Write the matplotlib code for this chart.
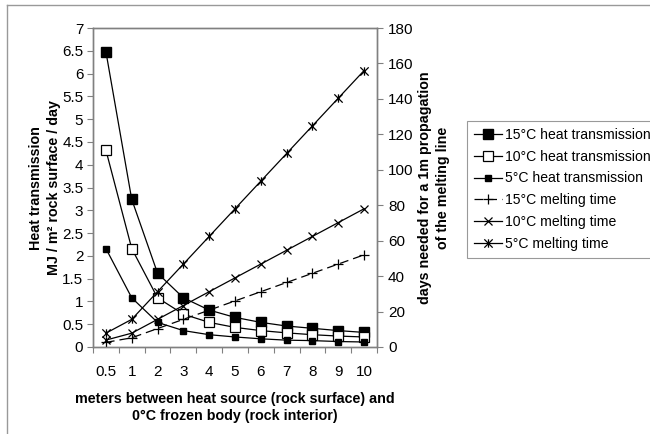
import matplotlib
matplotlib.use("Agg")
import matplotlib.pyplot as plt
from matplotlib.path import Path
from matplotlib.lines import Line2D
from matplotlib.ticker import FuncFormatter, FixedLocator

plt.rcParams['font.family'] = ['Liberation Sans', 'DejaVu Sans']

# ---- data ----
distance_labels = ['0.5', '1', '2', '3', '4', '5', '6', '7', '8', '9', '10']
heat_15 = [6.48, 3.24, 1.62, 1.08, 0.81, 0.65, 0.54, 0.46, 0.41, 0.36, 0.32]
heat_10 = [4.32, 2.16, 1.08, 0.72, 0.54, 0.43, 0.36, 0.31, 0.27, 0.24, 0.22]
heat_5 = [2.16, 1.08, 0.54, 0.36, 0.27, 0.22, 0.18, 0.15, 0.14, 0.12, 0.11]
melt_15 = [2.6, 5.2, 10.4, 15.6, 20.8, 26.0, 31.2, 36.4, 41.6, 46.8, 52.0]
melt_10 = [3.9, 7.8, 15.6, 23.4, 31.2, 39.0, 46.8, 54.6, 62.4, 70.2, 78.0]
melt_5 = [7.8, 15.6, 31.2, 46.8, 62.4, 78.0, 93.6, 109.2, 124.8, 140.4, 156.0]
left_ticks = [0, 0.5, 1, 1.5, 2, 2.5, 3, 3.5, 4, 4.5, 5, 5.5, 6, 6.5, 7]
right_ticks = [0, 20, 40, 60, 80, 100, 120, 140, 160, 180]

W, H = 650, 434
fig = plt.figure(figsize=(W / 100, H / 100), dpi=100)
ax = fig.add_axes([93 / W, 1 - 347 / H, (377 - 93) / W, (347 - 28) / H])
ax2 = ax.twinx()

x = list(range(len(distance_labels)))

star = Path([(-1, -1), (1, 1), (-1, 1), (1, -1), (0, -1), (0, 1)],
            [Path.MOVETO, Path.LINETO] * 3)

lw = 0.9
h1, = ax.plot(x, heat_15, color='black', lw=lw, marker='s', ms=6.5,
              mfc='black', mec='black', label='15°C heat transmission', zorder=3)
h2, = ax.plot(x, heat_10, color='black', lw=lw, marker='s', ms=6.5,
              mfc='white', mec='black', mew=0.9, label='10°C heat transmission', zorder=3)
h3, = ax.plot(x, heat_5, color='black', lw=lw, marker='s', ms=4,
              mfc='black', mec='black', label='5°C heat transmission', zorder=3)
m1, = ax2.plot(x, melt_15, color='black', lw=lw, ls=(0, (7, 4)), marker='+', ms=7,
               mew=0.9, label='15°C melting time')
m2, = ax2.plot(x, melt_10, color='black', lw=lw, marker='x', ms=5.5,
               mew=0.9, label='10°C melting time')
m3, = ax2.plot(x, melt_5, color='black', lw=lw, marker=star, ms=6,
               mew=0.9, label='5°C melting time')

ax.set_xlim(-0.5, len(x) - 0.5)
ax.set_ylim(0, 7)
ax2.set_ylim(0, 180)

ax.yaxis.set_major_locator(FixedLocator(left_ticks))
ax.yaxis.set_major_formatter(FuncFormatter(lambda v, p: '%g' % v))
ax2.yaxis.set_major_locator(FixedLocator(right_ticks))

ax.set_xticks([i - 0.5 for i in range(len(x) + 1)])
ax.set_xticklabels([])
ax.set_xticks(x, minor=True)
ax.set_xticklabels(distance_labels, minor=True)
ax.tick_params(axis='x', which='minor', length=0, pad=13, labelsize=11)
ax.tick_params(axis='x', which='major', length=4, direction='out', color='#808080')
ax.tick_params(axis='y', length=4, direction='out', color='#808080', labelsize=11, pad=3)
ax2.tick_params(axis='y', length=4, direction='out', color='#808080', labelsize=11, pad=4)

for a in (ax, ax2):
    for s in a.spines.values():
        s.set_color('#808080')
        s.set_linewidth(1)

ax.set_xlabel('meters between heat source (rock surface) and\n0°C frozen body (rock interior)',
              fontsize=10.3, fontweight='bold', labelpad=9, linespacing=1.3)

fig.text(45 / W, 1 - 188 / H, 'Heat transmission\nMJ / m² rock surface / day',
         rotation=90, ha='center', va='center', fontsize=10.3, fontweight='bold',
         multialignment='center', linespacing=1.3)
fig.text(434 / W, 1 - 188 / H, 'days needed for a 1m propagation\nof the melting line',
         rotation=90, ha='center', va='center', fontsize=10.3, fontweight='bold',
         multialignment='center', linespacing=1.3)

leg = fig.legend(handles=[h1, h2, h3, m1, m2, m3], loc='upper left',
                 bbox_to_anchor=(467 / W, 1 - 121 / H), bbox_transform=fig.transFigure,
                 fontsize=10.1, frameon=True, fancybox=False, framealpha=1,
                 edgecolor='#999999', handlelength=2.0, handletextpad=0.2,
                 borderpad=0.5, labelspacing=0.55, borderaxespad=0)
leg.get_frame().set_linewidth(0.8)

# outer chart frame
fig.add_artist(Line2D([7 / W, 1], [1 - 5 / H, 1 - 5 / H], transform=fig.transFigure,
                      color='#999999', lw=1))
fig.add_artist(Line2D([7 / W, 7 / W], [0, 1 - 5 / H], transform=fig.transFigure,
                      color='#999999', lw=1))

fig.savefig('out.png', dpi=100)
